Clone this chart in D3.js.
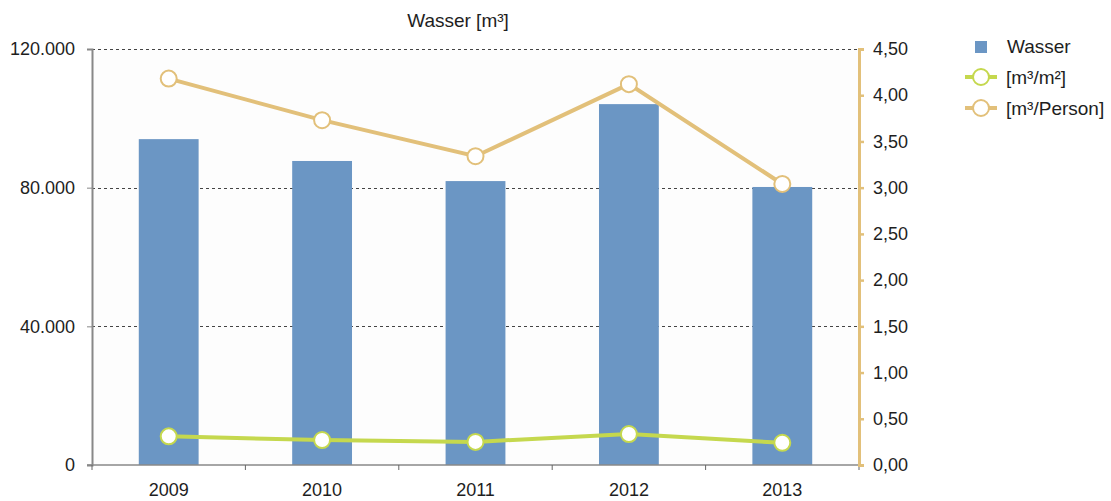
<!DOCTYPE html>
<html>
<head>
	<script src="https://cdn.jsdelivr.net/npm/d3@7"></script>
	<style>
		html, body { margin: 0; padding: 0; background: #fff; }
		svg text { font-family: "Liberation Sans", Arial, sans-serif; fill: #1e1e1e; }
	</style>
</head>
<body>
	<div id="chart"></div>
	<script>
		var years = ["2009", "2010", "2011", "2012", "2013"];
		var wasser = [94000, 87700, 81900, 104100, 80200];
		var proM2 = [0.31, 0.27, 0.25, 0.335, 0.24];
		var proPerson = [4.18, 3.73, 3.34, 4.12, 3.04];
		var leftTicks = [0, 40000, 80000, 120000];
		var rightTicks = [0, 0.5, 1, 1.5, 2, 2.5, 3, 3.5, 4, 4.5];

		var width = 1111, height = 501;
		var x0 = 92, x1 = 859, y0 = 465, y1 = 49;

		var svg = d3.select('#chart').append('svg')
			.attr('width', width)
			.attr('height', height);

		var x = d3.scaleBand().domain(years).range([x0, x1]).paddingInner(0.61).paddingOuter(0.305);
		var yL = d3.scaleLinear().domain([0, 120000]).range([y0, y1]);
		var yR = d3.scaleLinear().domain([0, 4.5]).range([y0, y1]);
		var cx = function(d, i) { return x(years[i]) + x.bandwidth() / 2; };

		var fmtL = function(v) { return v === 0 ? "0" : d3.format(",")(v).replace(/,/g, "."); };
		var fmtR = function(v) { return d3.format(".2f")(v).replace(".", ","); };

		svg.append('rect')
			.attr('x', x0).attr('y', y1)
			.attr('width', x1 - x0).attr('height', y0 - y1)
			.attr('fill', '#fdfdfd');

		// gridlines
		svg.append('g').selectAll('line')
			.data(leftTicks.slice(1))
			.enter().append('line')
			.attr('x1', x0).attr('x2', x1)
			.attr('y1', function(d) { return Math.round(yL(d)) + 0.5; })
			.attr('y2', function(d) { return Math.round(yL(d)) + 0.5; })
			.attr('stroke', '#444').attr('stroke-width', 1)
			.attr('stroke-dasharray', '3,3');

		// bars
		svg.append('g').selectAll('rect')
			.data(wasser)
			.enter().append('rect')
			.attr('x', function(d, i) { return x(years[i]); })
			.attr('width', x.bandwidth())
			.attr('y', function(d) { return yL(d); })
			.attr('height', function(d) { return y0 - yL(d); })
			.attr('fill', '#6b96c4');

		// left axis
		var gL = svg.append('g').attr('transform', 'translate(' + x0 + ',0)')
			.call(d3.axisLeft(yL).tickValues(leftTicks).tickFormat(fmtL).tickSize(5).tickPadding(12));
		gL.select('.domain').attr('stroke', '#888').attr('stroke-width', 2);
		gL.selectAll('.tick line').attr('stroke', '#888');
		gL.selectAll('.tick text').style('font-size', '18px');

		// bottom axis
		var xTicks = d3.scaleLinear().domain([0, 5]).range([x0, x1]);
		var gB = svg.append('g').attr('transform', 'translate(0,' + y0 + ')');
		gB.append('line').attr('x1', x0 - 5).attr('x2', x1).attr('stroke', '#888').attr('stroke-width', 1.5);
		gB.selectAll('.tk').data(d3.range(6)).enter().append('line')
			.attr('x1', function(d) { return xTicks(d); })
			.attr('x2', function(d) { return xTicks(d); })
			.attr('y1', 0).attr('y2', 5)
			.attr('stroke', '#666');
		gB.selectAll('text').data(years).enter().append('text')
			.attr('x', function(d) { return x(d) + x.bandwidth() / 2; })
			.attr('y', 31)
			.attr('text-anchor', 'middle')
			.style('font-size', '18px')
			.text(function(d) { return d; });

		// right axis
		var gR = svg.append('g').attr('transform', 'translate(' + x1 + ',0)')
			.call(d3.axisRight(yR).tickValues(rightTicks).tickFormat(fmtR).tickSize(5).tickPadding(9));
		gR.select('.domain').attr('stroke', '#e2c07a').attr('stroke-width', 3);
		gR.selectAll('.tick line').attr('stroke', '#e2c07a').attr('stroke-width', 2.5);
		gR.selectAll('.tick text').style('font-size', '18px');

		// lines
		function series(vals, color) {
			var line = d3.line()
				.x(function(d, i) { return cx(d, i); })
				.y(function(d) { return yR(d); });
			svg.append('path').datum(vals)
				.attr('d', line)
				.attr('fill', 'none')
				.attr('stroke', color)
				.attr('stroke-width', 4);
			svg.append('g').selectAll('circle')
				.data(vals)
				.enter().append('circle')
				.attr('cx', cx)
				.attr('cy', function(d) { return yR(d); })
				.attr('r', 8)
				.attr('fill', '#fff')
				.attr('stroke', color)
				.attr('stroke-width', 2);
		}
		series(proM2, '#c5d84e');
		series(proPerson, '#e2c07a');

		// title
		svg.append('text')
			.attr('x', 458).attr('y', 27)
			.attr('text-anchor', 'middle')
			.style('font-size', '19px')
			.text('Wasser [m³]');

		// legend
		var lg = svg.append('g');
		lg.append('rect').attr('x', 975).attr('y', 41).attr('width', 12).attr('height', 12).attr('fill', '#6b96c4');
		lg.append('text').attr('x', 1007).attr('y', 53).style('font-size', '19px').text('Wasser');
		var items = [{y: 77, c: '#c5d84e', t: '[m³/m²]'}, {y: 108, c: '#e2c07a', t: '[m³/Person]'}];
		items.forEach(function(it) {
			lg.append('line').attr('x1', 965).attr('x2', 997).attr('y1', it.y).attr('y2', it.y)
				.attr('stroke', it.c).attr('stroke-width', 4);
			lg.append('circle').attr('cx', 981).attr('cy', it.y).attr('r', 8)
				.attr('fill', '#fff').attr('stroke', it.c).attr('stroke-width', 2);
			lg.append('text').attr('x', 1006).attr('y', it.y + 7).style('font-size', '19px').text(it.t);
		});
	</script>
</body>
</html>
